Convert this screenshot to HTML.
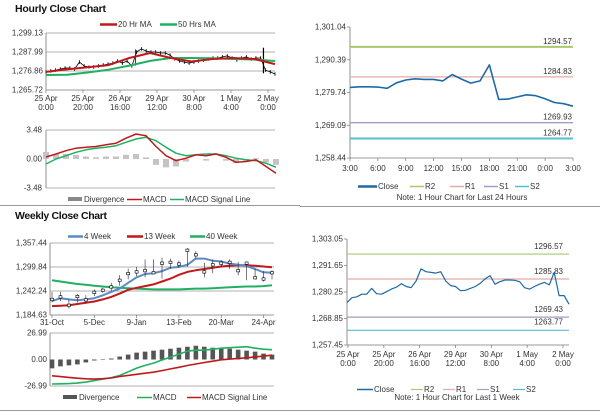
<!DOCTYPE html>
<html><head><meta charset="utf-8"><style>
html,body{margin:0;padding:0;background:#fff;width:600px;height:413px;overflow:hidden}
svg{display:block;font-family:"Liberation Sans",Arial,sans-serif}
.t{font-size:8px;fill:#333}
.ttl{font-size:10.5px;font-weight:bold;fill:#111}
</style></head><body>
<svg id="c" width="600" height="413" viewBox="0 0 600 413">
<text x="15" y="12" class="ttl" textLength="91">Hourly Close Chart</text>
<text x="15" y="219" class="ttl" textLength="92">Weekly Close Chart</text>
<line x1="0" y1="205.5" x2="300" y2="205.5" stroke="#999"/>
<line x1="300" y1="206.5" x2="600" y2="206.5" stroke="#999"/>
<line x1="0" y1="410.5" x2="600" y2="410.5" stroke="#999"/>
<g id="g"></g>
</svg>
<script>
// ---- data ----
const hTicks=["1,299.13","1,287.99","1,276.86","1,265.72"];
const hTickVals=[1299.13,1287.99,1276.86,1265.72];
const hXLab1=["25 Apr","25 Apr","26 Apr","29 Apr","30 Apr","1 May","2 May"];
const hXLab2=["0:00","20:00","16:00","12:00","8:00","4:00","0:00"];
const hClose=[1276.3,1276.9,1277.4,1278.0,1278.6,1278.6,1278.0,1282.1,1279.8,1279.2,1279.2,1279.8,1280.4,1280.9,1281.5,1282.7,1281.5,1282.7,1279.8,1288.0,1289.8,1288.6,1288.0,1288.0,1287.4,1287.4,1286.2,1283.9,1282.7,1282.1,1281.5,1282.1,1282.7,1283.3,1283.9,1284.5,1284.5,1285.1,1285.7,1284.5,1283.3,1284.5,1285.1,1283.9,1284.5,1284.5,1277.4,1276.3,1275.1];
const hMA20=[1276.3,1277.8,1279.0,1280.3,1284.5,1287.4,1284.5,1282.4,1283.9,1284.5,1283.9,1280.9];
const hMA50=[1274.5,1274.7,1276.0,1277.6,1280.0,1282.8,1284.5,1284.5,1284.3,1283.9,1283.6,1282.7];
const hMacd=[0.24,0.6,1.0,1.3,1.4,1.5,1.7,1.9,2.5,3.0,2.8,1.5,0.4,-0.2,0.1,0.5,0.4,0.6,0.2,-0.4,-0.3,-0.1,-0.9,-1.7];
const hSig=[-0.6,0.0,0.4,0.8,1.1,1.3,1.4,1.6,2.0,2.4,2.6,2.2,1.4,0.7,0.4,0.5,0.6,0.6,0.4,0.1,-0.1,-0.2,-0.5,-1.0];
const hDiv=[0.84,0.6,0.6,0.5,0.3,0.2,0.3,0.3,0.5,0.6,0.2,-0.7,-1.0,-0.9,-0.3,0,-0.2,0,-0.2,-0.5,-0.2,0.1,-0.4,-0.7];
const dTicks=["1,301.04","1,290.39","1,279.74","1,269.09","1,258.44"];
const dTickVals=[1301.04,1290.39,1279.74,1269.09,1258.44];
const dXLab=["3:00","6:00","9:00","12:00","15:00","18:00","21:00","0:00","3:00"];
const dClose=[1281.4,1281.6,1281.6,1281.5,1281.1,1282.9,1283.8,1284.2,1284.0,1284.0,1283.5,1285.6,1284.1,1282.8,1283.5,1288.7,1277.5,1277.6,1278.3,1279.0,1278.7,1277.7,1276.5,1276.1,1275.3];
const dLevels=[1294.57,1284.83,1269.93,1264.77];
const wTicks=["1,357.44","1,299.84","1,242.24","1,184.63"];
const wTickVals=[1357.44,1299.84,1242.24,1184.63];
const wXLab=["31-Oct","5-Dec","9-Jan","13-Feb","20-Mar","24-Apr"];
const wClose=[1222,1228,1208,1229,1221,1239,1244,1252,1268,1284,1288,1291,1286,1309,1311,1307,1340,1329,1288,1305,1309,1311,1291,1309,1274,1271,1286];
const wHigh=[1240,1240,1222,1235,1232,1246,1250,1262,1280,1296,1300,1318,1318,1322,1320,1315,1345,1338,1310,1318,1316,1318,1312,1312,1296,1290,1292];
const wLow=[1215,1218,1200,1215,1212,1230,1238,1242,1255,1270,1278,1275,1282,1272,1296,1298,1300,1320,1275,1285,1300,1295,1280,1268,1270,1265,1270];
const w4=[1218,1225,1222,1220,1222,1225,1232,1240,1248,1262,1275,1283,1285,1290,1298,1300,1305,1320,1320,1315,1313,1308,1305,1302,1295,1287,1286];
const w13=[1206,1207,1208,1211,1214,1217,1222,1228,1236,1245,1250,1254,1258,1265,1272,1281,1288,1292,1295,1298,1301,1303,1304,1304,1303,1301,1299];
const w40=[1268,1265,1262,1259,1257,1255,1253,1251,1250,1249,1248,1247,1246,1246,1246,1246,1247,1248,1248,1249,1250,1251,1252,1253,1253,1254,1256];
const wDiv=[-9,-7,-6,-5,-3,-1,0,1,3,5,7,8,9,10,11,12,13,14,13,12,12,11,10,9,8,6,5];
const wMacd=[-25,-24.7,-24.5,-24,-23,-21.5,-20,-18.5,-16.3,-12.5,-8.8,-6,-3.7,-0.5,2.4,5.5,8.5,9.5,9.5,10.5,11.5,12,12.5,13,11.5,10.5,10];
const wSig=[-16.6,-17.4,-18.2,-19,-19.7,-20,-19.6,-18.8,-17.3,-16.2,-15.1,-14,-12.9,-11.3,-9.6,-7.9,-6.1,-4.6,-3.1,-1.7,-0.3,0.4,1.1,1.7,2.6,3.5,4.4];
const bXLab1=["25 Apr","25 Apr","26 Apr","29 Apr","30 Apr","1 May","2 May"];
const bXLab2=["0:00","20:00","16:00","12:00","8:00","4:00","0:00"];
const bTicks=["1,303.05","1,291.65","1,280.25","1,268.85","1,257.45"];
const bTickVals=[1303.05,1291.65,1280.25,1268.85,1257.45];
const bClose=[1275.7,1277.8,1278.2,1279.3,1279.3,1281.8,1279.5,1279.3,1280.4,1281.5,1282.3,1283.8,1282.6,1282.1,1285.0,1290.2,1289.0,1288.7,1288.4,1289.0,1285.0,1283.0,1282.6,1280.8,1281.0,1281.8,1282.6,1284.0,1285.9,1287.3,1283.6,1284.7,1285.4,1285.4,1285.3,1284.7,1282.1,1281.5,1282.6,1283.6,1284.4,1283.3,1288.7,1278.7,1278.7,1275.0];
const bLevels=[1296.57,1285.83,1269.43,1263.77];
const levelNames=["R2","R1","S1","S2"];
const levelColors=["#a8c86e","#e7a9a9","#a89ac6","#52bfd0"];

// ---- helpers ----
const NS="http://www.w3.org/2000/svg";
const G=document.getElementById('g');
function mk(tag,at){const e=document.createElementNS(NS,tag);for(const k in at)e.setAttribute(k,at[k]);G.appendChild(e);return e;}
function lin(d0,d1,r0,r1){return v=>r0+(v-d0)/(d1-d0)*(r1-r0);}
function idx(n,x0,x1){return i=>x0+i*(x1-x0)/(n-1);}
function path(arr,xf,yf,color,w,name){
  const d=arr.map((v,i)=>(i?'L':'M')+xf(i).toFixed(1)+','+yf(v).toFixed(1)).join('');
  const p=mk('path',{d:d,fill:'none',stroke:color,'stroke-width':w,'stroke-linejoin':'round'});
  
  
  return p;
}
function text(x,y,s,anchor,name,cls){
  const t=mk('text',{x:x,y:y,'text-anchor':anchor||'start',class:cls||'t'});t.textContent=s;
  
  
  return t;
}
function hline(x0,x1,y,color,w,name){
  const l=mk('line',{x1:x0,x2:x1,y1:y,y2:y,stroke:color,'stroke-width':w});
  
  
  return l;
}
function vline(x,y0,y1,color,w,name){
  const l=mk('line',{x1:x,x2:x,y1:y0,y2:y1,stroke:color,'stroke-width':w});
  
  
  return l;
}
function legLine(x,y,len,color,label,name,w){
  hline(x,x+len,y-2.5,color,w||2.5,name+'-swatch');
  text(x+len+1,y,label,'start',name);
}
function legBlock(x,y,color,label,name){
  const r=mk('rect',{x:x,y:y-5,width:14,height:4,fill:color});
  
  
  text(x+16,y,label,'start',name);
}

// ===== Hourly close (top-left) =====
{
  const x0=46,x1=275,y=lin(1265.72,1299.13,90,33);
  hTickVals.forEach((v,i)=>{ if(i<3) hline(x0,x1,y(v),'#999',0.7,'hourly-gridline'); text(x0-3,y(v)+2.5,hTicks[i],'end','hourly-y-tick');});
  hline(x0,x1,90,'#777',0.8,'hourly-x-axis');
  vline(x0,33,90,'#777',0.8,'hourly-y-axis');
  const tx=idx(7,46,268);
  hXLab1.forEach((s,i)=>{vline(tx(i),90,93,'#777',0.7,'hourly-x-tickmark');text(tx(i),101,s,'middle','hourly-x-tick');text(tx(i),110,hXLab2[i],'middle','hourly-x-tick');});
  const cx=idx(hClose.length,x0,x1);
  hClose.forEach((v,i)=>{vline(cx(i),y(v)-1.8,y(v)+1.8,'#000',0.8,'hourly-candle');});
  vline(cx(19)-1,y(1289.5),y(1280),'#000',0.8,'hourly-wick');
  vline(cx(46)-2,y(1290.5),y(1275.5),'#000',1.2,'hourly-wick');
  path(hClose,cx,y,'#000',0.8,'hourly-close-line');
  path(hMA50,idx(hMA50.length,x0,x1),y,'#21b061',2,'hourly-ma50-line');
  path(hMA20,idx(hMA20.length,x0,x1),y,'#c0191c',2,'hourly-ma20-line');
  legLine(100,27,17,'#c0191c','20 Hr MA','legend-20hr-ma');
  legLine(160,27,17,'#21b061','50 Hrs MA','legend-50hrs-ma');
  // MACD
  const my=lin(-3.48,3.48,188,130);
  hline(x0,x1,130,'#999',0.7,'hourly-macd-gridline');
  hline(x0,x1,188,'#999',0.7,'hourly-macd-gridline');
  vline(x0,130,188,'#777',0.8,'hourly-macd-y-axis');
  [["3.48",3.48],["0.00",0],["-3.48",-3.48]].forEach(a=>text(x0-4,my(a[1])+2.5,a[0],'end','hourly-macd-y-tick'));
  const mx=idx(hMacd.length,x0,276);
  hDiv.forEach((v,i)=>{const r=mk('rect',{x:mx(i)-3,y:Math.min(my(v),my(0)),width:6,height:Math.abs(my(v)-my(0)),fill:'#c4c4c4'});
    
    });
  path(hSig,mx,my,'#21b061',1.5,'hourly-macd-signal-line');
  path(hMacd,mx,my,'#c0191c',1.5,'hourly-macd-line');
  legBlock(68,202,'#888','Divergence','legend-hourly-divergence');
  legLine(127,202,15,'#c0191c','MACD','legend-hourly-macd',1.5);
  legLine(170,202,14,'#21b061','MACD Signal Line','legend-hourly-signal',1.5);
}

// ===== Daily (top-right) =====
{
  const x0=350,x1=573,y=lin(1258.44,1301.04,158,27);
  vline(x0,27,158,'#777',0.8,'daily-y-axis');
  hline(x0,x1,158,'#777',0.8,'daily-x-axis');
  dTickVals.forEach((v,i)=>{hline(x0-3,x0,y(v),'#777',0.7,'daily-y-tickmark');text(x0-4,y(v)+2.5,dTicks[i],'end','daily-y-tick');});
  const tx=idx(dXLab.length,x0,x1);
  dXLab.forEach((s,i)=>{vline(tx(i),158,161,'#777',0.7,'daily-x-tickmark');text(tx(i),171,s,'middle','daily-x-tick');});
  dLevels.forEach((v,i)=>{hline(x0,x1,y(v),levelColors[i],i==0||i==3?2:1.3,'daily-'+levelNames[i].toLowerCase()+'-line');text(x1-1,y(v)-3,v.toFixed(2),'end','daily-'+levelNames[i].toLowerCase()+'-label');});
  path(dClose,idx(dClose.length,x0,x1),y,'#1f6aa5',1.6,'daily-close-line');
  legLine(358,189,19,'#1f6aa5','Close','legend-daily-close');
  const lx=[410,450,484,515];
  levelNames.forEach((n,i)=>legLine(lx[i],189,14,levelColors[i],n,'legend-daily-'+n.toLowerCase(),1.5));
  text(462,200,'Note: 1 Hour Chart for Last 24 Hours','middle','daily-note').setAttribute('font-size','6.5');
}

// ===== Weekly (bottom-left) =====
{
  const x0=50,x1=274,y=lin(1184.63,1357.44,315,243);
  wTickVals.forEach((v,i)=>{ if(i<3) hline(x0,x1,y(v),'#999',0.7,'weekly-gridline'); text(x0-3,y(v)+2.5,wTicks[i],'end','weekly-y-tick');});
  hline(x0,x1,315,'#777',0.8,'weekly-x-axis');
  vline(x0,243,315,'#777',0.8,'weekly-y-axis');
  const cx=idx(wClose.length,52,272);
  wXLab.forEach((s,i)=>{const xx=cx(i*5);vline(xx,315,318,'#777',0.7,'weekly-x-tickmark');text(xx,325,s,'middle','weekly-x-tick');});
  path(w40,cx,y,'#21b061',2,'weekly-40wk-line');
  path(w13,cx,y,'#c0191c',2,'weekly-13wk-line');
  path(w4,cx,y,'#5b8ac6',2,'weekly-4wk-line');
  wClose.forEach((v,i)=>{vline(cx(i),y(wHigh[i]),y(wLow[i]),'#222',0.6,'weekly-candle-wick');
    const r=mk('rect',{x:cx(i)-1.5,y:y(v)-1.2,width:3,height:2.4,fill:'#fff',stroke:'#000','stroke-width':0.6});
    
    });
  legLine(68,239,15,'#5b8ac6','4 Week','legend-4-week');
  legLine(127,239,16,'#c0191c','13 Week','legend-13-week');
  legLine(190,239,15,'#21b061','40 Week','legend-40-week');
  const my=lin(-26.99,26.99,386,333);
  hline(x0,x1,333,'#999',0.7,'weekly-macd-gridline');
  hline(x0,x1,386,'#999',0.7,'weekly-macd-gridline');
  vline(x0,333,386,'#777',0.8,'weekly-macd-y-axis');
  [["26.99",26.99],["0.00",0],["-26.99",-26.99]].forEach(a=>text(x0-3,my(a[1])+2.5,a[0],'end','weekly-macd-y-tick'));
  wDiv.forEach((v,i)=>{const r=mk('rect',{x:cx(i)-2.3,y:Math.min(my(v),my(0)),width:4.6,height:Math.max(0.5,Math.abs(my(v)-my(0))),fill:'#555'});
    
    });
  path(wMacd,cx,my,'#21b061',1.6,'weekly-macd-line');
  path(wSig,cx,my,'#c0191c',1.6,'weekly-macd-signal-line');
  legBlock(63,400,'#555','Divergence','legend-weekly-divergence');
  legLine(137,400,15,'#21b061','MACD','legend-weekly-macd',1.5);
  legLine(187,400,14,'#c0191c','MACD Signal Line','legend-weekly-signal',1.5);
}

// ===== Weekly hourly (bottom-right) =====
{
  const x0=347,x1=569,y=lin(1257.45,1303.05,345,239);
  vline(x0,239,345,'#777',0.8,'week-hourly-y-axis');
  hline(x0,x1,345,'#777',0.8,'week-hourly-x-axis');
  bTickVals.forEach((v,i)=>{hline(x0-3,x0,y(v),'#777',0.7,'week-hourly-y-tickmark');text(x0-4,y(v)+2.5,bTicks[i],'end','week-hourly-y-tick');});
  const tx=idx(7,348,563);
  bXLab1.forEach((s,i)=>{vline(tx(i),345,348,'#777',0.7,'week-hourly-x-tickmark');text(tx(i),357,s,'middle','week-hourly-x-tick');text(tx(i),366,bXLab2[i],'middle','week-hourly-x-tick');});
  bLevels.forEach((v,i)=>{hline(x0,x1,y(v),levelColors[i],1.2,'week-hourly-'+levelNames[i].toLowerCase()+'-line');
    const ly = i==3 ? y(v)-6 : y(v)-5;
    text(563,ly,v.toFixed(2),'end','week-hourly-'+levelNames[i].toLowerCase()+'-label').setAttribute('font-size','8');});
  path(bClose,idx(bClose.length,x0,x1),y,'#1f6aa5',1.2,'week-hourly-close-line');
  legLine(357,392,16,'#1f6aa5','Close','legend-week-close',1.5);
  const lx=[411,443,477,513];
  levelNames.forEach((n,i)=>legLine(lx[i],392,12,levelColors[i],n,'legend-week-'+n.toLowerCase(),1.2));
  text(457,400,'Note: 1 Hour Chart for Last 1 Week','middle','week-hourly-note').setAttribute('font-size','6');
}
</script>
</body></html>
